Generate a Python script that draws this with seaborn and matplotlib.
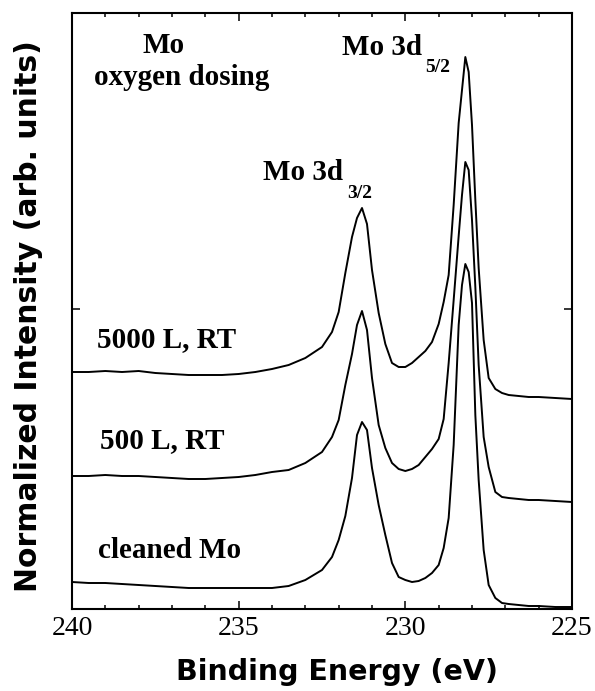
##### Libraries ##################################################################
import pandas as pd
import matplotlib
matplotlib.use("Agg")
import matplotlib.pyplot as plt
from matplotlib.ticker import MultipleLocator
import seaborn as sns

##### DATA #######################################################################
# binding energy grid (eV)
energia = [240.0, 239.5, 239.0, 238.5, 238.0, 237.5, 237.0, 236.5, 236.0, 235.5,
           235.0, 234.5, 234.0, 233.5, 233.0, 232.5, 232.2, 232.0, 231.8, 231.6,
           231.45, 231.3, 231.15, 231.0, 230.8, 230.6, 230.4, 230.2, 230.0, 229.8,
           229.6, 229.4, 229.2, 229.0, 228.85, 228.7, 228.55, 228.4, 228.3, 228.2,
           228.1, 228.0, 227.9, 227.8, 227.65, 227.5, 227.3, 227.1, 226.9, 226.6,
           226.3, 226.0, 225.5, 225.0]

# normalized intensity (arb. units, offset curves)
int_5000L = [237, 237, 238, 237, 238, 236, 235, 234, 234, 234,
             235, 237, 240, 244, 251, 262, 277, 297, 336, 372,
             391, 401, 385, 339, 296, 265, 246, 242, 242, 246,
             252, 258, 267, 285, 307, 334, 404, 486, 519, 552,
             537, 484, 409, 341, 269, 231, 220, 216, 214, 213,
             212, 212, 211, 210]

int_500L = [133, 133, 134, 133, 133, 132, 131, 130, 130, 131,
            132, 134, 137, 139, 146, 157, 172, 189, 224, 255,
            284, 298, 279, 231, 184, 161, 146, 140, 138, 140,
            144, 152, 160, 170, 190, 246, 309, 373, 414, 447,
            439, 389, 322, 244, 172, 142, 117, 112, 111, 110,
            109, 109, 108, 107]

int_limpo = [27, 26, 26, 25, 24, 23, 22, 21, 21, 21,
             21, 21, 21, 23, 29, 39, 52, 69, 93, 131,
             174, 187, 179, 141, 104, 74, 46, 32, 29, 27,
             28, 31, 36, 44, 61, 91, 164, 284, 324, 345,
             337, 306, 194, 129, 59, 24, 11, 6, 5, 4,
             3, 3, 2, 2]

amostras = ["5000 L, RT", "500 L, RT", "cleaned Mo"]

##### DATASET ####################################################################
dataset = pd.DataFrame({
    "energia": energia * 3,
    "intensidade": int_5000L + int_500L + int_limpo,
    "amostra": [a for a in amostras for _ in energia],
})

##### PLOT #######################################################################
sns.set_theme(style="ticks")
plt.rcParams["font.family"] = ["DejaVu Sans"]
plt.rcParams["text.color"] = "black"
plt.rcParams["axes.labelcolor"] = "black"

fig = plt.figure(figsize=(5.95, 6.91), dpi=100)
ax = fig.add_axes([72 / 595, 1 - 609 / 691, 500 / 595, 596 / 691])

sns.lineplot(data=dataset, x="energia", y="intensidade", hue="amostra",
             units="amostra", estimator=None, sort=False, legend=False,
             palette={a: "black" for a in amostras}, linewidth=1.4, ax=ax)

ax.set_xlim(240, 225)
ax.set_ylim(0, 596)
ax.set_xticks([240, 235, 230, 225], ["240", "235", "230", "225"],
              fontfamily="Liberation Serif", fontsize=20)
ax.xaxis.set_minor_locator(MultipleLocator(1))
ax.set_yticks([0, 300], ["", ""])
ax.tick_params(which="both", direction="in", top=True, right=True,
               width=1.1, color="black", labelcolor="black", pad=5)
ax.tick_params(which="major", length=6)
ax.tick_params(which="minor", length=3)
for s in ax.spines.values():
    s.set_linewidth(1.5)
    s.set_color("black")

ax.set_xlabel("Binding Energy (eV)", fontsize=20.5, fontweight="bold",
              va="center", color="black")
ax.xaxis.set_label_coords(0.529, -0.106)
ax.set_ylabel("Normalized Intensity (arb. units)", fontsize=21.5,
              fontweight="bold", va="center", color="black")
ax.yaxis.set_label_coords(-0.086, 0.491)

##### ANNOTATIONS ################################################################
serif = dict(fontfamily="Liberation Serif", fontweight="bold", color="black")
ax.text(237.24, 556, "Mo", ha="center", va="baseline", fontsize=21, **serif)
ax.text(236.71, 524, "oxygen dosing", ha="center", va="baseline", fontsize=21, **serif)
ax.text(231.9, 554, "Mo 3d", ha="left", va="baseline", fontsize=21, **serif)
ax.text(229.41, 537, "5/2", ha="left", va="baseline", fontsize=14, **serif)
ax.text(234.27, 429, "Mo 3d", ha="left", va="baseline", fontsize=21, **serif)
ax.text(231.75, 411, "3/2", ha="left", va="baseline", fontsize=14, **serif)
ax.text(239.25, 262, amostras[0], ha="left", va="baseline", fontsize=21, **serif)
ax.text(239.16, 161, amostras[1], ha="left", va="baseline", fontsize=21, **serif)
ax.text(239.22, 51, amostras[2], ha="left", va="baseline", fontsize=21, **serif)

plt.savefig("out.png", dpi=100)
